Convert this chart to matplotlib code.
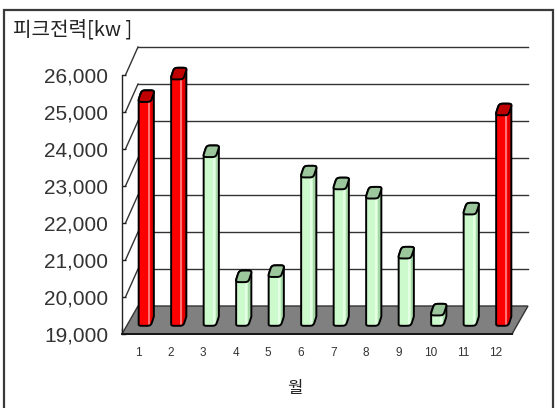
import numpy as np
import matplotlib
matplotlib.use('Agg')
import matplotlib.pyplot as plt
from matplotlib.patches import Polygon, Rectangle

# ---------------- data ----------------
months = ['1', '2', '3', '4', '5', '6', '7', '8', '9', '10', '11', '12']
peak_kw = [25050, 25660, 23560, 20180, 20320, 23010, 22690, 22440, 20820, 19280, 22010, 24690]
winter = [True, True, False, False, False, False, False, False, False, False, False, True]
y_ticks = [19000, 20000, 21000, 22000, 23000, 24000, 25000, 26000]
y_tick_labels = ['19,000', '20,000', '21,000', '22,000', '23,000', '24,000', '25,000', '26,000']
title_text = '피크전력[kw ]'
x_label = '월'

# ---------------- style ----------------
W, H = 557, 408
fig = plt.figure(figsize=(W / 100, H / 100), dpi=100)
plt.rcParams['font.family'] = ['Liberation Sans', 'DejaVu Sans']

ax = fig.add_axes([122 / W, (H - 334) / H, 390 / W, 259 / H])
ax.set_xlim(0.5, 12.5)
ax.set_ylim(y_ticks[0], y_ticks[-1])
ax.patch.set_visible(False)
for s in ['top', 'right']:
    ax.spines[s].set_visible(False)
ax.spines['left'].set_color('#222222')
ax.spines['left'].set_linewidth(1.0)
ax.spines['bottom'].set_color('#111111')
ax.spines['bottom'].set_linewidth(1.3)
ax.spines['left'].set_zorder(6)
ax.spines['bottom'].set_zorder(6)

x = np.arange(1, len(months) + 1)
ax.set_yticks(y_ticks)
ax.set_yticklabels(y_tick_labels)
ax.tick_params(axis='y', direction='in', length=3.2, width=1.0, colors='#222222',
               labelsize=15, labelcolor='#333333', pad=10)
ax.set_xticks(x)
ax.set_xticklabels(months)
ax.set_xticks(np.arange(0.5, 12.6, 1.0), minor=True)
ax.tick_params(axis='x', which='major', length=0, labelsize=8.5, labelcolor='#333333', pad=9)
ax.tick_params(axis='x', which='minor', direction='in', length=4, width=1.0, colors='#111111')

# pixel -> data conversion
p0 = ax.transData.transform((0, 0))
p1 = ax.transData.transform((1, 1))
sx = p1[0] - p0[0]
sy = p1[1] - p0[1]


def px(dx, dy):
    return dx / sx, dy / sy


# 3D depth offset of the back wall (pixels)
DX, DY = 16, 28
ddx, ddy = px(DX, DY)
xmin, xmax = 0.5, 12.5
ybase = y_ticks[0]

# back wall gridlines and left wall diagonals
for yt in y_ticks[1:]:
    ax.plot([xmin + ddx, xmax + ddx], [yt + ddy, yt + ddy], color='#333333', lw=1.0,
            clip_on=False, zorder=1)
    tx, _ = px(3.5, 0)
    ax.plot([xmin + tx, xmin + ddx], [yt, yt + ddy], color='#333333', lw=1.0,
            clip_on=False, zorder=1)

# floor
floor = Polygon([(xmin, ybase), (xmax, ybase), (xmax + ddx, ybase + ddy), (xmin + ddx, ybase + ddy)],
                closed=True, facecolor='#808080', edgecolor='#333333', lw=1.0,
                clip_on=False, zorder=2)
ax.add_patch(floor)


def hull(points):
    pts = sorted(set(map(tuple, points)))
    if len(pts) <= 2:
        return pts

    def cross(o, a, b):
        return (a[0] - o[0]) * (b[1] - o[1]) - (a[1] - o[1]) * (b[0] - o[0])
    lower, upper = [], []
    for p in pts:
        while len(lower) >= 2 and cross(lower[-2], lower[-1], p) <= 0:
            lower.pop()
        lower.append(p)
    for p in reversed(pts):
        while len(upper) >= 2 and cross(upper[-2], upper[-1], p) <= 0:
            upper.pop()
        upper.append(p)
    return lower[:-1] + upper[:-1]


# bar cross-section (rounded parallelogram, in pixels)
BW = 13.0          # bar width px
BDX, BDY = 1.9, 5.8  # half depth vector px
n_exp = 5.0
th = np.linspace(0, 2 * np.pi, 73)
cu = np.sign(np.cos(th)) * np.abs(np.cos(th)) ** (2 / n_exp)
sv = np.sign(np.sin(th)) * np.abs(np.sin(th)) ** (2 / n_exp)
sec_px = np.column_stack([BW / 2 * cu + BDX * sv, BDY * sv])

cx_off, cy_off = px(8, 14)

for xi, val, red in zip(x, peak_kw, winter):
    if red:
        body_c, light_c, dark_c, cap_c = '#ff0000', '#ff7070', '#dd0000', '#c00000'
    else:
        body_c, light_c, dark_c, cap_c = '#ccfacc', '#e4ffe4', '#a9d9a9', '#9cc69c'
    cxd = xi + cx_off
    sec = np.column_stack([sec_px[:, 0] / sx, sec_px[:, 1] / sy])
    bottom = sec + np.array([cxd, ybase + cy_off])
    top = sec + np.array([cxd, val + cy_off])
    body_pts = hull(np.vstack([bottom, top]))
    body = Polygon(body_pts, closed=True, facecolor=body_c, edgecolor='none',
                   clip_on=False, zorder=3)
    ax.add_patch(body)
    xl = min(p[0] for p in body_pts)
    xr = max(p[0] for p in body_pts)
    wid = xr - xl
    for f0, f1, c in [(0.60, 0.72, light_c), (0.78, 1.0, dark_c)]:
        r = Rectangle((xl + f0 * wid, ybase), (f1 - f0) * wid, val - ybase + 2 * cy_off,
                      facecolor=c, edgecolor='none', zorder=3.2, clip_on=True)
        ax.add_patch(r)
        r.set_clip_path(body)
    ax.add_patch(Polygon(body_pts, closed=True, facecolor='none', edgecolor='#000000',
                         lw=1.4, clip_on=False, zorder=3.5, joinstyle='round'))
    ax.add_patch(Polygon(top, closed=True, facecolor=cap_c, edgecolor='#000000',
                         lw=1.4, clip_on=False, zorder=3.6, joinstyle='round'))

# texts
fig.text(13 / W, 1 - 30 / H, title_text, ha='left', va='center', fontsize=14.5,
         color='#222222', family=['Noto Sans CJK KR', 'DejaVu Sans'])
fig.text(295 / W, 1 - 389 / H, x_label, ha='center', va='center', fontsize=12,
         color='#222222', family=['Noto Sans CJK KR', 'DejaVu Sans'])

# outer frame
fig.patches.append(Rectangle((4 / W, -0.05), 549 / W, 1.05 - 10 / H, transform=fig.transFigure,
                             facecolor='none', edgecolor='#3a3a3a', lw=1.6))

fig.savefig('out.png', dpi=100)
